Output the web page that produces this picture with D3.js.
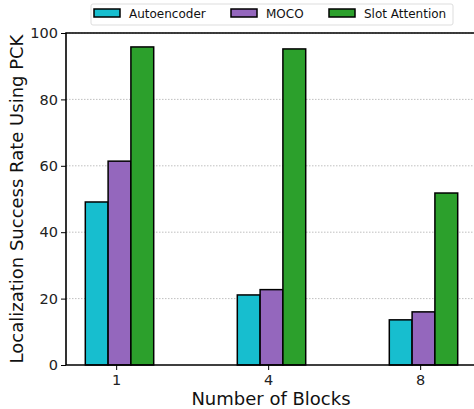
<!DOCTYPE html>
<html lang="en">
<head>
  <meta charset="UTF-8">
  <title>Localization Success Rate</title>
  <style>
    body { margin: 0; background: #fff; }
    svg { display: block; font-family: "DejaVu Sans", sans-serif; }
  </style>
</head>
<body>
  <script src="https://d3js.org/d3.v7.min.js"></script>
  <script>
    const blocks = ['1', '4', '8'];
    const methods = ['Autoencoder', 'MOCO', 'Slot Attention'];
    const colors = ['#17becf', '#9467bd', '#2ca02c'];
    const autoencoder = [49.1, 21.1, 13.6];
    const moco = [61.4, 22.7, 16.0];
    const slotAttention = [95.8, 95.2, 51.8];
    const yTicks = [0, 20, 40, 60, 80, 100];

    const series = [autoencoder, moco, slotAttention];
    const width = 474, height = 409;
    const plotLeft = 66, plotTop = 33, plotBottom = 365;

    const svg = d3.select('body').append('svg')
      .attr('width', width)
      .attr('height', height);

    // x runs past the right edge, like the original
    const x = d3.scaleLinear().domain([-0.33, 2.4]).range([plotLeft, plotLeft + 2.73 * 152]);
    const y = d3.scaleLinear().domain([0, 100]).range([plotBottom, plotTop]);
    const barW = 0.15;
    const offsets = [-0.203, -0.053, 0.097];

    // grid
    svg.append('g')
      .selectAll('line')
      .data(yTicks.slice(1))
      .enter().append('line')
        .attr('x1', plotLeft).attr('x2', width)
        .attr('y1', d => y(d)).attr('y2', d => y(d))
        .attr('stroke', '#b0b0b0')
        .attr('stroke-width', 0.8)
        .attr('stroke-dasharray', '1.5,1.5');

    // bars
    series.forEach((vals, s) => {
      svg.append('g')
        .selectAll('rect')
        .data(vals)
        .enter().append('rect')
          .attr('x', (d, i) => x(i + offsets[s]))
          .attr('y', d => y(d))
          .attr('width', x(barW) - x(0))
          .attr('height', d => y(0) - y(d))
          .attr('fill', colors[s])
          .attr('stroke', '#000')
          .attr('stroke-width', 1.5);
    });

    // axes
    const yAxis = svg.append('g')
      .attr('transform', `translate(${plotLeft},0)`)
      .call(d3.axisLeft(y).tickValues(yTicks).tickSize(5).tickPadding(3));
    const xAxis = svg.append('g')
      .attr('transform', `translate(0,${plotBottom})`)
      .call(d3.axisBottom(x).tickValues([0, 1, 2]).tickFormat(i => blocks[i]).tickSize(5).tickPadding(5));
    [yAxis, xAxis].forEach(a => {
      a.attr('font-family', null).attr('font-size', null);
      a.select('.domain').remove();
      a.selectAll('text').style('font-size', '14.5px').attr('fill', '#222');
      a.selectAll('line').attr('stroke', '#000').attr('stroke-width', 1);
    });

    // spines
    svg.append('path')
      .attr('d', `M${width + 5},${plotTop}H${plotLeft}V${plotBottom}H${width + 5}`)
      .attr('fill', 'none')
      .attr('stroke', '#000')
      .attr('stroke-width', 1.6);

    // labels
    svg.append('text')
      .attr('transform', `translate(23,${(plotTop + plotBottom) / 2}) rotate(-90)`)
      .attr('text-anchor', 'middle')
      .style('font-size', '18px')
      .attr('fill', '#111')
      .text('Localization Success Rate Using PCK');
    svg.append('text')
      .attr('x', 271).attr('y', 405)
      .attr('text-anchor', 'middle')
      .style('font-size', '18px')
      .attr('fill', '#111')
      .text('Number of Blocks');

    // legend
    const legend = svg.append('g');
    legend.append('rect')
      .attr('x', 91).attr('y', 4).attr('width', 362).attr('height', 21)
      .attr('rx', 2)
      .attr('fill', '#fff').attr('stroke', '#ddd');
    const legendX = [94, 231, 329];
    methods.forEach((m, i) => {
      legend.append('rect')
        .attr('x', legendX[i]).attr('y', 9).attr('width', 26).attr('height', 8)
        .attr('fill', colors[i]).attr('stroke', '#000').attr('stroke-width', 1.5);
      legend.append('text')
        .attr('x', legendX[i] + 35).attr('y', 18)
        .style('font-size', '12px')
        .attr('fill', '#111')
        .text(m);
    });
  </script>
</body>
</html>
